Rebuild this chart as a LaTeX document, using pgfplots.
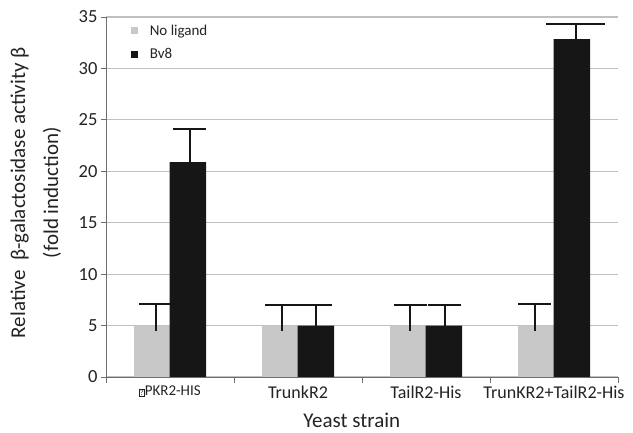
\documentclass[border=0pt]{standalone}
\usepackage{pgfplots}
\pgfplotsset{compat=1.18}
\usepackage{fontspec}
\setmainfont{Carlito}
\definecolor{lgray}{RGB}{200,200,200}
\definecolor{dblack}{RGB}{22,22,22}
\definecolor{gridc}{RGB}{192,192,192}
\definecolor{axc}{RGB}{110,110,110}
\definecolor{txt}{RGB}{35,35,35}
\begin{document}
\begin{tikzpicture}
\begin{axis}[name=ax, scale only axis, width=512bp, height=360bp,
  xmin=-0.5, xmax=3.5, ymin=0, ymax=35,
  axis x line=bottom, axis y line=left,
  axis line style={-, draw=axc, line width=0.9bp},
  ytick={0,5,...,35}, ymajorgrids, grid style={draw=gridc, line width=1.2bp},
  xtick={0,1,2,3},
  xticklabels={{\fontsize{15bp}{17bp}\selectfont{\setlength\fboxsep{0.4bp}\setlength\fboxrule{0.5bp}\fbox{\fontsize{8bp}{9bp}\selectfont ?}}PKR2-HIS}, TrunkR2, TailR2-His, TrunKR2+TailR2-His},
  minor xtick={-0.5,0.5,1.5,2.5,3.5},
  major x tick style={draw=none},
  minor x tick style={draw=axc, line width=0.9bp},
  major y tick style={draw=axc, line width=0.9bp},
  tick align=outside, major tick length=5bp, minor tick length=6bp,
  /pgf/number format/assume math mode=true,
  yticklabel style={font=\fontsize{18.5bp}{20bp}\selectfont, text=txt},
  xticklabel style={font=\fontsize{18bp}{20bp}\selectfont, text=txt},
  xlabel={Yeast strain},
  xlabel style={at={(axis description cs:0.48,-0.12)}, anchor=center, font=\fontsize{21bp}{24bp}\selectfont, text=txt},
  ylabel={Relative~~β-galactosidase activity β\\[9bp](fold induction)},
  ylabel style={at={(axis description cs:-0.137,0.512)}, anchor=center, align=center, font=\fontsize{21bp}{24bp}\selectfont, text=txt},
  legend style={draw=none, fill=none, at={(axis description cs:0.048,0.985)}, anchor=north west, font=\fontsize{15bp}{17bp}\selectfont, row sep=8bp, text=txt, inner sep=0pt},
  legend cell align=left,
]
\addplot[ybar, bar width=0.28, bar shift=-0.14, fill=lgray, draw=none,
  legend image code/.code={\fill[lgray] (0bp,-3.5bp) rectangle (7bp,3.5bp); \path (17bp,0bp);}]
  coordinates {(0,5) (1,5) (2,5) (3,5)};
\addlegendentry{No ligand}
\addplot[draw=none, mark=none, forget plot, error bars/.cd, y dir=plus, y explicit,
  error bar style={draw=dblack, line width=2.2bp},
  error mark options={draw=dblack, line width=2.2bp, mark size=16.5bp, rotate=90}]
  coordinates {(-0.11,4.5) += (0,2.6) (0.875,4.5) += (0,2.5) (1.875,4.5) += (0,2.5) (2.85,4.5) += (0,2.6)};
\addplot[ybar, bar width=0.285, bar shift=0.14, fill=dblack, draw=none,
  legend image code/.code={\fill[dblack] (0bp,-3.5bp) rectangle (7bp,3.5bp); \path (17bp,0bp);}]
  coordinates {(0,20.9) (1,5) (2,5) (3,32.85)};
\addlegendentry{Bv8}
\addplot[draw=none, mark=none, forget plot, error bars/.cd, y dir=plus, y explicit,
  error bar style={draw=dblack, line width=2.2bp},
  error mark options={draw=dblack, line width=2.2bp, mark size=16.5bp, rotate=90}]
  coordinates {(0.156,20.9) += (0,3.2) (1.14,5) += (0,2) (2.148,5) += (0,2)};
\addplot[draw=none, mark=none, forget plot, error bars/.cd, y dir=plus, y explicit,
  error bar style={draw=dblack, line width=2.2bp},
  error mark options={draw=dblack, line width=2.2bp, mark size=29.5bp, rotate=90}]
  coordinates {(3.17,32.85) += (0,1.45)};
\end{axis}
\pgfresetboundingbox
\path ([shift={(-106bp,-56bp)}]ax.south west) rectangle ([shift={(15bp,17bp)}]ax.north east);
\end{tikzpicture}
\end{document}
